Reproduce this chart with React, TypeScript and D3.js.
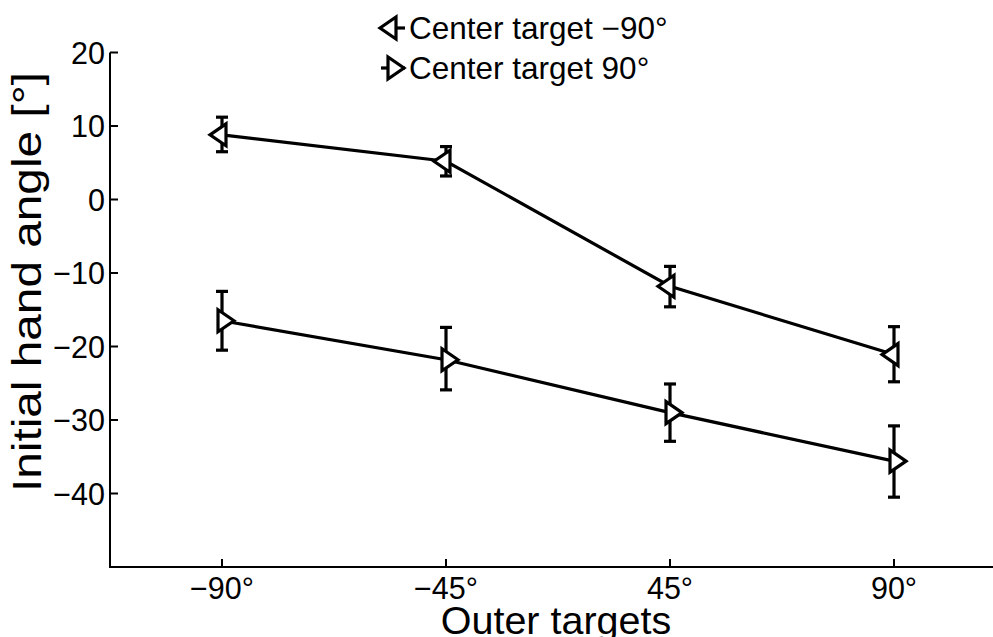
import React from "react";
import * as d3 from "d3";

const categories = ["−90°", "−45°", "45°", "90°"];
const yTicks = [20, 10, 0, -10, -20, -30, -40];

const neg90Mean = [8.8, 5.2, -11.8, -21.1];
const neg90Lower = [6.5, 3.2, -14.6, -24.8];
const neg90Upper = [11.2, 7.2, -9.1, -17.3];

const pos90Mean = [-16.5, -21.8, -29.0, -35.6];
const pos90Lower = [-20.5, -25.9, -32.9, -40.5];
const pos90Upper = [-12.5, -17.4, -25.1, -30.8];

const legendLabels = ["Center target −90°", "Center target 90°"];

const W = 993;
const H = 637;
const FONT = "'Liberation Sans', Arial, Helvetica, sans-serif";

function triPath(cx: number, cy: number, dir: "left" | "right") {
  const s = dir === "left" ? -1 : 1;
  return `M${cx + s * 12},${cy} L${cx - s * 4},${cy - 11} L${cx - s * 4},${cy + 11} Z`;
}

export default function App() {
  const x = d3.scaleLinear().domain([0.5, 4.5]).range([110, 1006]);
  const y = d3.scaleLinear().domain([-50, 20]).range([567, 52.5]);
  const idx = categories.map((_, i) => i + 1);

  const line = d3
    .line<number>()
    .x((_, i) => x(idx[i]))
    .y((d) => y(d));

  const series = [
    { mean: neg90Mean, lo: neg90Lower, hi: neg90Upper, dir: "left" as const },
    { mean: pos90Mean, lo: pos90Lower, hi: pos90Upper, dir: "right" as const },
  ];

  const axisY0 = y(-50);
  const axisX0 = x(0.5);

  return (
    <div style={{ position: "fixed", left: 0, top: 0 }}>
      <svg width={W} height={H} style={{ display: "block", background: "#fff" }}>
        <rect width={W} height={H} fill="#fff" />
        {/* axes */}
        <line x1={axisX0} x2={W} y1={axisY0} y2={axisY0} stroke="#000" strokeWidth={2} />
        <line x1={axisX0} x2={axisX0} y1={y(20)} y2={axisY0 + 1} stroke="#000" strokeWidth={2} />
        {yTicks.map((t) => (
          <g key={t}>
            <line x1={axisX0} x2={axisX0 + 8} y1={y(t)} y2={y(t)} stroke="#000" strokeWidth={2} />
            <text
              x={axisX0 - 5}
              y={y(t)}
              textAnchor="end"
              dominantBaseline="central"
              fontFamily={FONT}
              fontSize={30.5}
            >
              {t < 0 ? `−${Math.abs(t)}` : `${t}`}
            </text>
          </g>
        ))}
        {categories.map((c, i) => (
          <g key={c}>
            <line x1={x(idx[i])} x2={x(idx[i])} y1={axisY0} y2={axisY0 - 8} stroke="#000" strokeWidth={2} />
            <text x={x(idx[i])} y={599} textAnchor="middle" fontFamily={FONT} fontSize={30.5}>
              {c}
            </text>
          </g>
        ))}
        {/* axis labels */}
        <text x={556} y={634} textAnchor="middle" fontFamily={FONT} fontSize={39.5}>
          Outer targets
        </text>
        <text
          transform={`translate(41,282) rotate(-90)`}
          textAnchor="middle"
          fontFamily={FONT}
          fontSize={40}
          textLength={420}
          lengthAdjust="spacingAndGlyphs"
        >
          Initial hand angle [°]
        </text>
        {/* series */}
        {series.map((s, si) => (
          <g key={si}>
            <path d={line(s.mean) || ""} fill="none" stroke="#000" strokeWidth={3.2} />
            {s.mean.map((m, i) => {
              const cx = x(idx[i]);
              return (
                <g key={i} stroke="#000" strokeWidth={3.2}>
                  <line x1={cx} x2={cx} y1={y(s.lo[i])} y2={y(s.hi[i])} />
                  <line x1={cx - 6} x2={cx + 6} y1={y(s.lo[i])} y2={y(s.lo[i])} />
                  <line x1={cx - 6} x2={cx + 6} y1={y(s.hi[i])} y2={y(s.hi[i])} />
                </g>
              );
            })}
            {s.mean.map((m, i) => (
              <path
                key={`m${i}`}
                d={triPath(x(idx[i]), y(m), s.dir)}
                fill="#fff"
                stroke="#000"
                strokeWidth={3.2}
                strokeLinejoin="miter"
              />
            ))}
          </g>
        ))}
        {/* legend */}
        {legendLabels.map((l, i) => {
          const ly = 28 + i * 40;
          return (
            <g key={l}>
              <line x1={381} x2={405} y1={ly} y2={ly} stroke="#000" strokeWidth={3.2} />
              <path
                d={triPath(392, ly, i === 0 ? "left" : "right")}
                fill="#fff"
                stroke="#000"
                strokeWidth={3.2}
              />
              <text x={409} y={ly} dominantBaseline="central" fontFamily={FONT} fontSize={31.5}>
                {l}
              </text>
            </g>
          );
        })}
      </svg>
    </div>
  );
}
